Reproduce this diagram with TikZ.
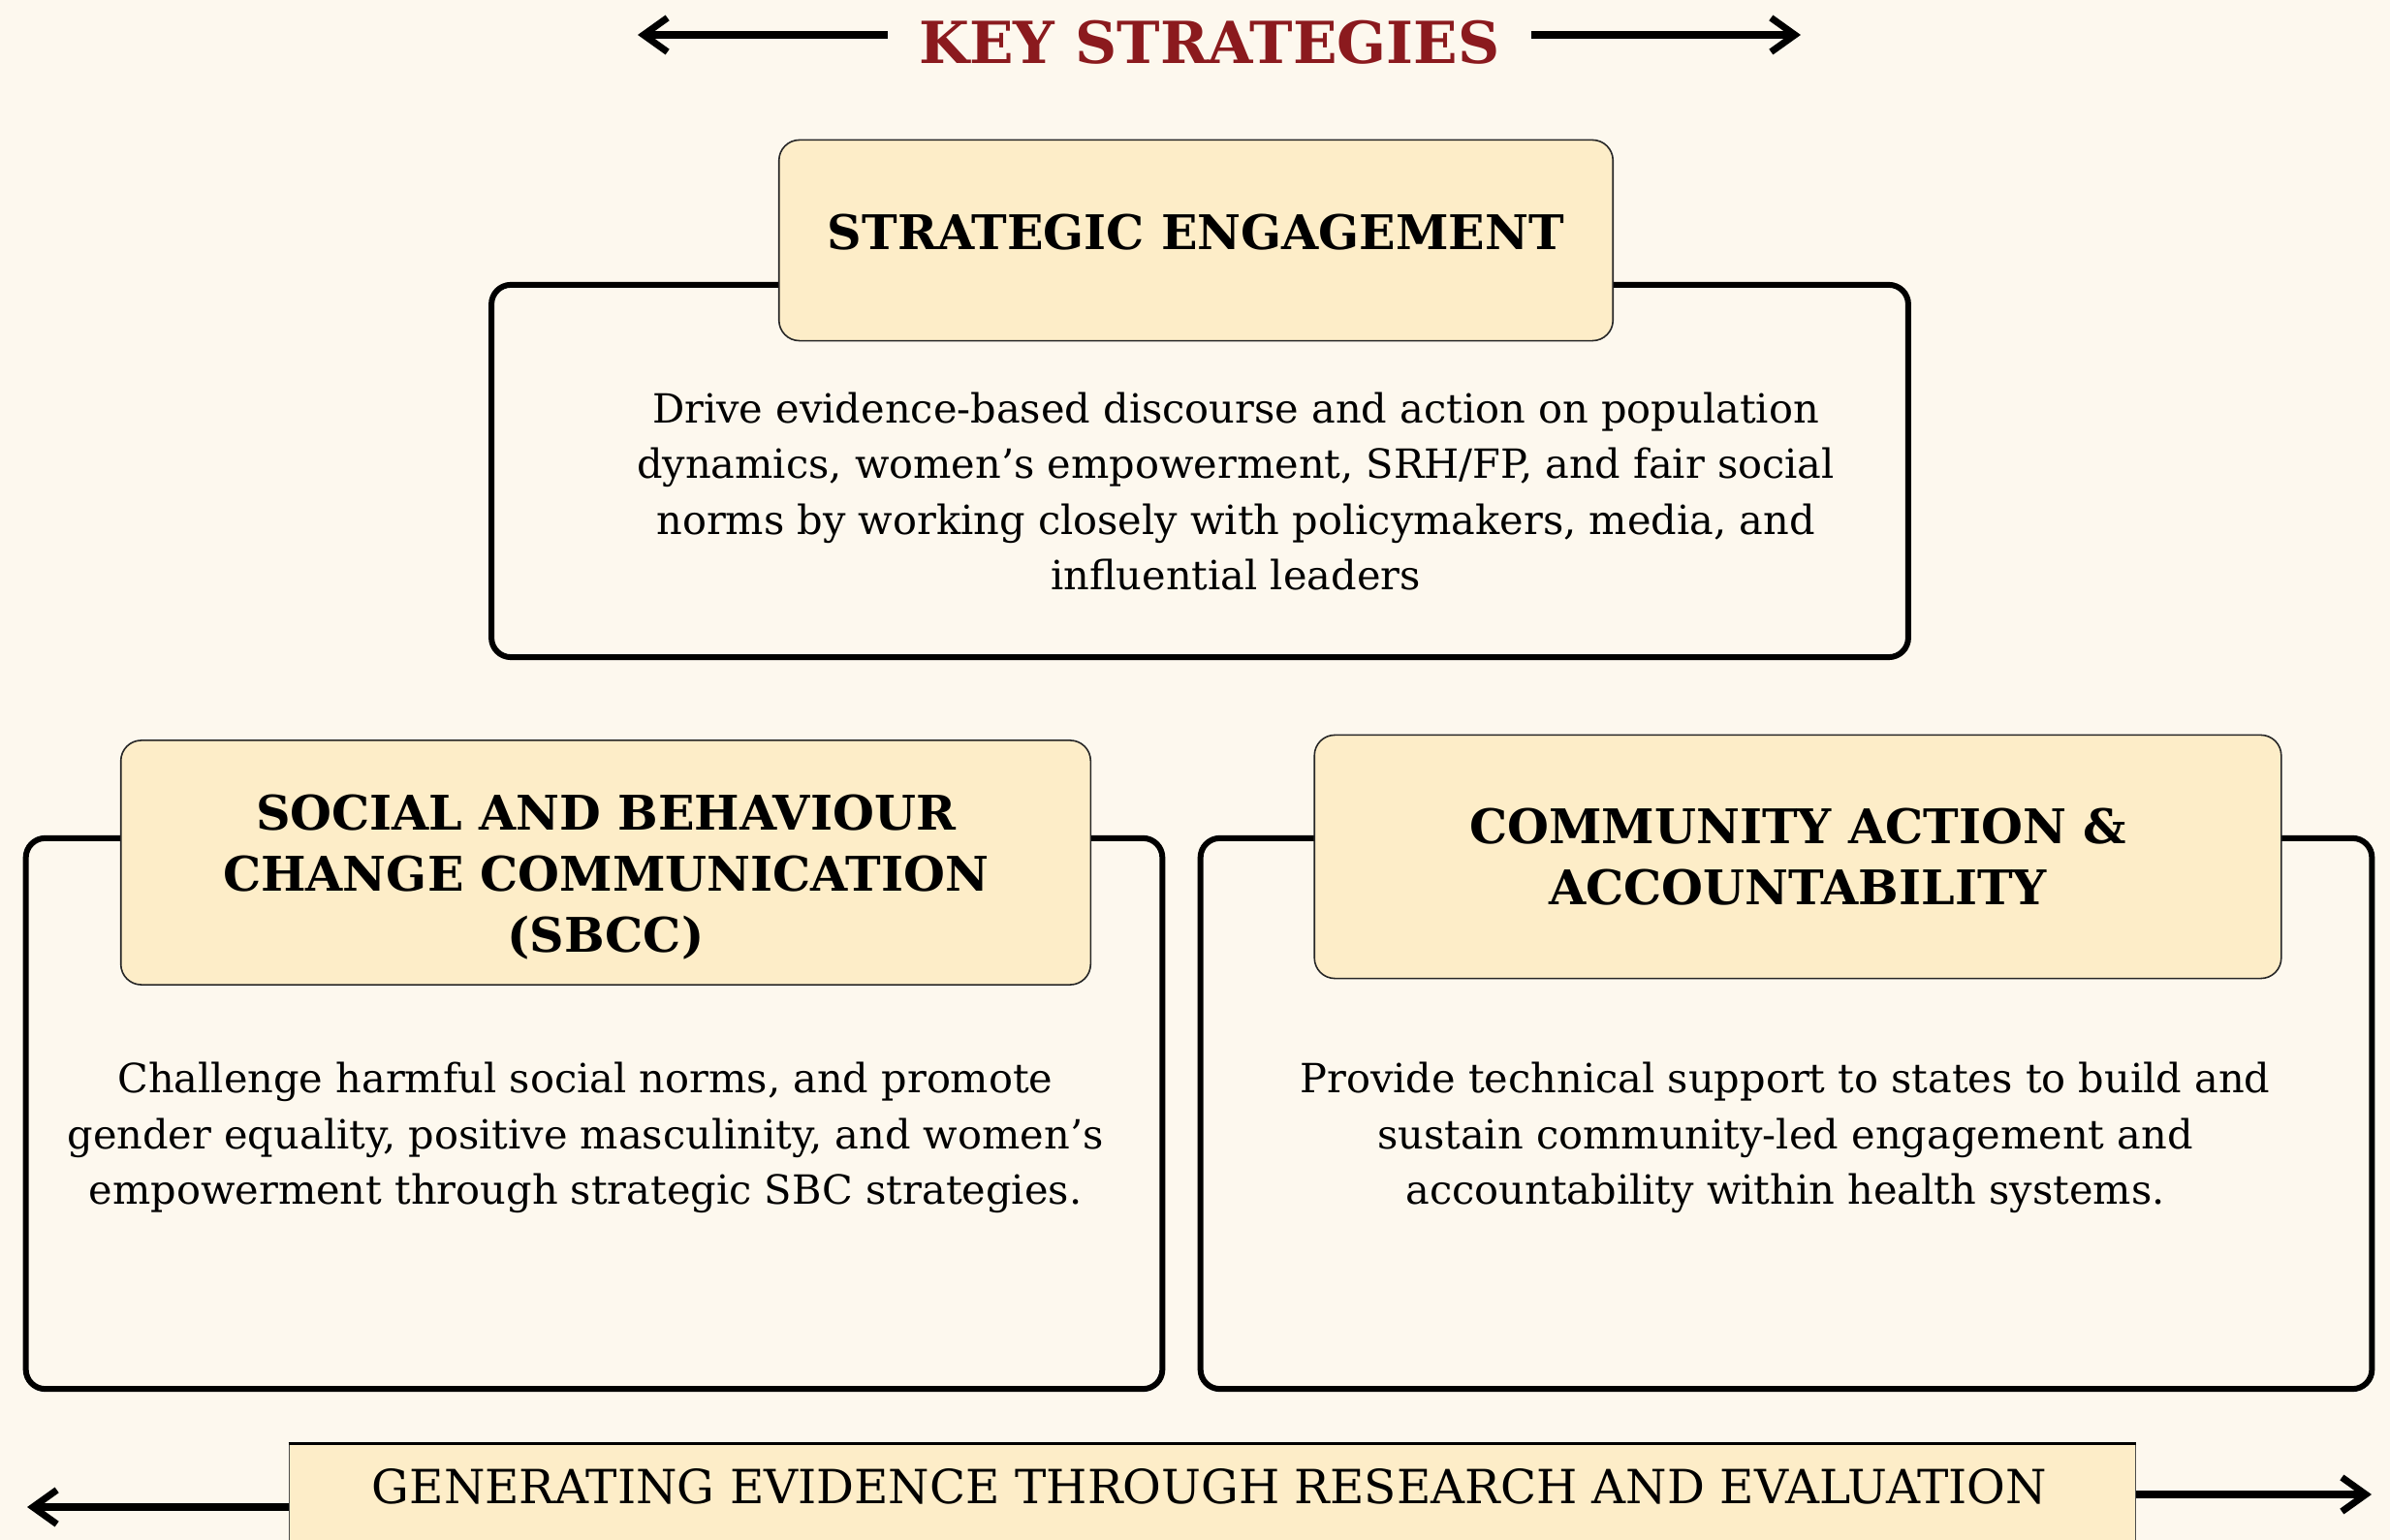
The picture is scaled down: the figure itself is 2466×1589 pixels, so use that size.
\documentclass[tikz,border=0pt]{standalone}
\usepackage{fontspec}
\setmainfont{DejaVu Serif}
\usepackage{xcolor}
\usetikzlibrary{arrows.meta,shapes,positioning}

\definecolor{creambg}{RGB}{253,248,238}
\definecolor{headfill}{RGB}{253,237,200}
\definecolor{titlered}{RGB}{139,26,30}

\tikzset{
  mainbox/.style={draw=black, line width=1.7pt, rounded corners=5.7pt, fill=creambg},
  headbox/.style={draw=black!85, line width=0.45pt, rounded corners=6pt, fill=headfill},
  headtext/.style={align=center, font=\fontsize{14}{18}\selectfont\bfseries, inner sep=0pt},
  bodytext/.style={align=center, font=\fontsize{11.8}{16.3}\selectfont, inner sep=0pt},
  keyarrow/.style={line width=2pt, -{Straight Barb[length=7pt,width=10pt]}},
}

\begin{document}
\begin{tikzpicture}[x=0.01cm, y=-0.01cm]
    \useasboundingbox (0,0) rectangle (2466,1589);
    \clip (0,0) rectangle (2466,1589);
    \fill[creambg] (0,0) rectangle (2466,1589);

    % title
    \node[font=\fontsize{17}{20}\selectfont\bfseries, text=titlered, inner xsep=0.32cm] (title) at (1248,44) {KEY STRATEGIES};
    \coordinate (titleL) at (658,36);
    \coordinate (titleR) at (1858,36);
    \draw[keyarrow] (title.west |- titleL) -- (titleL);
    \draw[keyarrow] (title.east |- titleR) -- (titleR);

    % strategic engagement
    \node[mainbox, minimum width=14.61cm, minimum height=3.84cm] (seBox) at (1238,486) {};
    \node[headbox, minimum width=8.6cm, minimum height=2.07cm] (seHead) at (1234,248) {};
    \node[headtext] (seTitle) at ([yshift=0.08cm]seHead.center) {STRATEGIC ENGAGEMENT};
    \node[bodytext] (seText) at (1275,507) {Drive evidence-based discourse and action on population\\
        dynamics, women’s empowerment, SRH/FP, and fair social\\
        norms by working closely with policymakers, media, and\\
        influential leaders};

    % SBCC
    \node[mainbox, minimum width=11.72cm, minimum height=5.68cm] (sbccBox) at (613,1149) {};
    \node[headbox, minimum width=10cm, minimum height=2.52cm] (sbccHead) at (625,890) {};
    \node[headtext] (sbccTitle) at ([yshift=-0.15cm]sbccHead.center) {SOCIAL AND BEHAVIOUR\\CHANGE COMMUNICATION\\(SBCC)};
    \node[bodytext] (sbccText) at (604,1174) {Challenge harmful social norms, and promote\\
        gender equality, positive masculinity, and women’s\\
        empowerment through strategic SBC strategies.};

    % community action
    \node[mainbox, minimum width=12.08cm, minimum height=5.68cm] (caBox) at (1843,1149) {};
    \node[headbox, minimum width=9.97cm, minimum height=2.51cm] (caHead) at (1855,884) {};
    \node[headtext] (caTitle) at (caHead.center) {COMMUNITY ACTION \&\\ACCOUNTABILITY};
    \node[bodytext] (caText) at (1842,1174) {Provide technical support to states to build and\\
        sustain community-led engagement and\\
        accountability within health systems.};

    % research and evaluation
    \node[draw=black!70, line width=0.4pt, fill=headfill, minimum width=19.04cm, minimum height=1.4cm] (evBar) at (1251,1560) {};
    \draw[line width=0.9pt] (evBar.north west) -- (evBar.north east);
    \node[font=\fontsize{13.8}{17}\selectfont] (evText) at (1248,1534) {GENERATING EVIDENCE THROUGH RESEARCH AND EVALUATION};
    \coordinate (evL) at (28,1555);
    \coordinate (evR) at (2447,1542);
    \draw[keyarrow] (evBar.west |- evL) -- (evL);
    \draw[keyarrow] (evBar.east |- evR) -- (evR);
\end{tikzpicture}
\end{document}
